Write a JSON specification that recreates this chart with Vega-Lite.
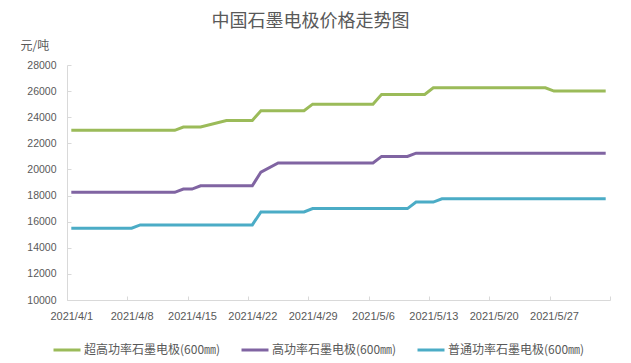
{
  "$schema": "https://vega.github.io/schema/vega-lite/v6.json",
  "width": 543,
  "height": 235,
  "autosize": "none",
  "padding": {"left": 67, "top": 65, "right": 21, "bottom": 63},
  "background": "white",
  "config": {"view": {"stroke": null}, "font": "Liberation Sans, Noto Sans CJK SC"},
  "title": {"text": "中国石墨电极价格走势图", "fontSize": 18, "fontWeight": "normal", "color": "#595959", "font": "Noto Sans CJK SC", "anchor": "middle", "dx": -28, "offset": 8},
  "data": {"values": [
    {"series": "超高功率石墨电极(600㎜)", "date": "2021-04-01", "price": 23000},
    {"series": "超高功率石墨电极(600㎜)", "date": "2021-04-13", "price": 23000},
    {"series": "超高功率石墨电极(600㎜)", "date": "2021-04-14", "price": 23250},
    {"series": "超高功率石墨电极(600㎜)", "date": "2021-04-16", "price": 23250},
    {"series": "超高功率石墨电极(600㎜)", "date": "2021-04-19", "price": 23750},
    {"series": "超高功率石墨电极(600㎜)", "date": "2021-04-22", "price": 23750},
    {"series": "超高功率石墨电极(600㎜)", "date": "2021-04-23", "price": 24500},
    {"series": "超高功率石墨电极(600㎜)", "date": "2021-04-28", "price": 24500},
    {"series": "超高功率石墨电极(600㎜)", "date": "2021-04-29", "price": 25000},
    {"series": "超高功率石墨电极(600㎜)", "date": "2021-05-06", "price": 25000},
    {"series": "超高功率石墨电极(600㎜)", "date": "2021-05-07", "price": 25750},
    {"series": "超高功率石墨电极(600㎜)", "date": "2021-05-12", "price": 25750},
    {"series": "超高功率石墨电极(600㎜)", "date": "2021-05-13", "price": 26250},
    {"series": "超高功率石墨电极(600㎜)", "date": "2021-05-26", "price": 26250},
    {"series": "超高功率石墨电极(600㎜)", "date": "2021-05-27", "price": 26000},
    {"series": "超高功率石墨电极(600㎜)", "date": "2021-06-02", "price": 26000},
    {"series": "高功率石墨电极(600㎜)", "date": "2021-04-01", "price": 18250},
    {"series": "高功率石墨电极(600㎜)", "date": "2021-04-13", "price": 18250},
    {"series": "高功率石墨电极(600㎜)", "date": "2021-04-14", "price": 18500},
    {"series": "高功率石墨电极(600㎜)", "date": "2021-04-15", "price": 18500},
    {"series": "高功率石墨电极(600㎜)", "date": "2021-04-16", "price": 18750},
    {"series": "高功率石墨电极(600㎜)", "date": "2021-04-22", "price": 18750},
    {"series": "高功率石墨电极(600㎜)", "date": "2021-04-23", "price": 19800},
    {"series": "高功率石墨电极(600㎜)", "date": "2021-04-25", "price": 20500},
    {"series": "高功率石墨电极(600㎜)", "date": "2021-05-06", "price": 20500},
    {"series": "高功率石墨电极(600㎜)", "date": "2021-05-07", "price": 21000},
    {"series": "高功率石墨电极(600㎜)", "date": "2021-05-10", "price": 21000},
    {"series": "高功率石墨电极(600㎜)", "date": "2021-05-11", "price": 21250},
    {"series": "高功率石墨电极(600㎜)", "date": "2021-06-02", "price": 21250},
    {"series": "普通功率石墨电极(600㎜)", "date": "2021-04-01", "price": 15500},
    {"series": "普通功率石墨电极(600㎜)", "date": "2021-04-08", "price": 15500},
    {"series": "普通功率石墨电极(600㎜)", "date": "2021-04-09", "price": 15750},
    {"series": "普通功率石墨电极(600㎜)", "date": "2021-04-22", "price": 15750},
    {"series": "普通功率石墨电极(600㎜)", "date": "2021-04-23", "price": 16750},
    {"series": "普通功率石墨电极(600㎜)", "date": "2021-04-28", "price": 16750},
    {"series": "普通功率石墨电极(600㎜)", "date": "2021-04-29", "price": 17000},
    {"series": "普通功率石墨电极(600㎜)", "date": "2021-05-10", "price": 17000},
    {"series": "普通功率石墨电极(600㎜)", "date": "2021-05-11", "price": 17500},
    {"series": "普通功率石墨电极(600㎜)", "date": "2021-05-13", "price": 17500},
    {"series": "普通功率石墨电极(600㎜)", "date": "2021-05-14", "price": 17750},
    {"series": "普通功率石墨电极(600㎜)", "date": "2021-06-02", "price": 17750}
  ]},
  "mark": {"type": "line", "strokeWidth": 3},
  "encoding": {
    "x": {
      "field": "date",
      "type": "temporal",
      "scale": {"type": "utc", "domain": [
        {"year": 2021, "month": 3, "date": 31, "hours": 12, "utc": true},
        {"year": 2021, "month": 6, "date": 2, "hours": 12, "utc": true}
      ]},
      "axis": {
        "values": [
          {"year": 2021, "month": 3, "date": 31, "hours": 12, "utc": true},
          {"year": 2021, "month": 4, "date": 7, "hours": 12, "utc": true},
          {"year": 2021, "month": 4, "date": 14, "hours": 12, "utc": true},
          {"year": 2021, "month": 4, "date": 21, "hours": 12, "utc": true},
          {"year": 2021, "month": 4, "date": 28, "hours": 12, "utc": true},
          {"year": 2021, "month": 5, "date": 5, "hours": 12, "utc": true},
          {"year": 2021, "month": 5, "date": 12, "hours": 12, "utc": true},
          {"year": 2021, "month": 5, "date": 19, "hours": 12, "utc": true},
          {"year": 2021, "month": 5, "date": 26, "hours": 12, "utc": true},
          {"year": 2021, "month": 6, "date": 2, "hours": 12, "utc": true}
        ],
        "labelExpr": "datum.value > 1622592000000 ? '' : utcFormat(datum.value + 43200000, '%Y/%-m/%-d')",
        "labelOffset": 4.31,
        "tickSize": -4,
        "labelPadding": 14,
        "grid": false,
        "title": null,
        "domainColor": "#d9d9d9",
        "tickColor": "#d9d9d9",
        "labelColor": "#595959",
        "labelFontSize": 11,
        "labelFont": "Liberation Sans",
        "labelAngle": 0,
        "labelFlush": false,
        "labelOverlap": false,
        "labelBound": false
      }
    },
    "y": {
      "field": "price",
      "type": "quantitative",
      "scale": {"domain": [10000, 28000], "nice": false, "zero": false},
      "axis": {
        "values": [10000, 12000, 14000, 16000, 18000, 20000, 22000, 24000, 26000, 28000],
        "format": "d",
        "grid": false,
        "tickSize": -4,
        "labelPadding": 15,
        "domainColor": "#d9d9d9",
        "tickColor": "#d9d9d9",
        "labelColor": "#595959",
        "labelFontSize": 10.5,
        "labelFont": "Liberation Sans",
        "title": "元/吨",
        "titleAngle": 0,
        "titleX": -47,
        "titleY": -20,
        "titleAlign": "left",
        "titleBaseline": "middle",
        "titleFont": "Noto Sans CJK SC",
        "titleFontSize": 12,
        "titleFontWeight": "normal",
        "titleColor": "#595959"
      }
    },
    "color": {
      "field": "series",
      "type": "nominal",
      "scale": {
        "domain": ["超高功率石墨电极(600㎜)", "高功率石墨电极(600㎜)", "普通功率石墨电极(600㎜)"],
        "range": ["#9BBB59", "#8064A2", "#4BACC6"]
      },
      "legend": {
        "title": null,
        "orient": "none",
        "legendX": -15,
        "legendY": 270,
        "direction": "horizontal",
        "symbolType": "stroke",
        "symbolSize": 729,
        "symbolStrokeWidth": 3,
        "labelFontSize": 12,
        "labelFont": "Noto Sans CJK SC",
        "labelColor": "#595959",
        "columnPadding": 14,
        "labelOffset": 2,
        "labelLimit": 300
      }
    }
  }
}
